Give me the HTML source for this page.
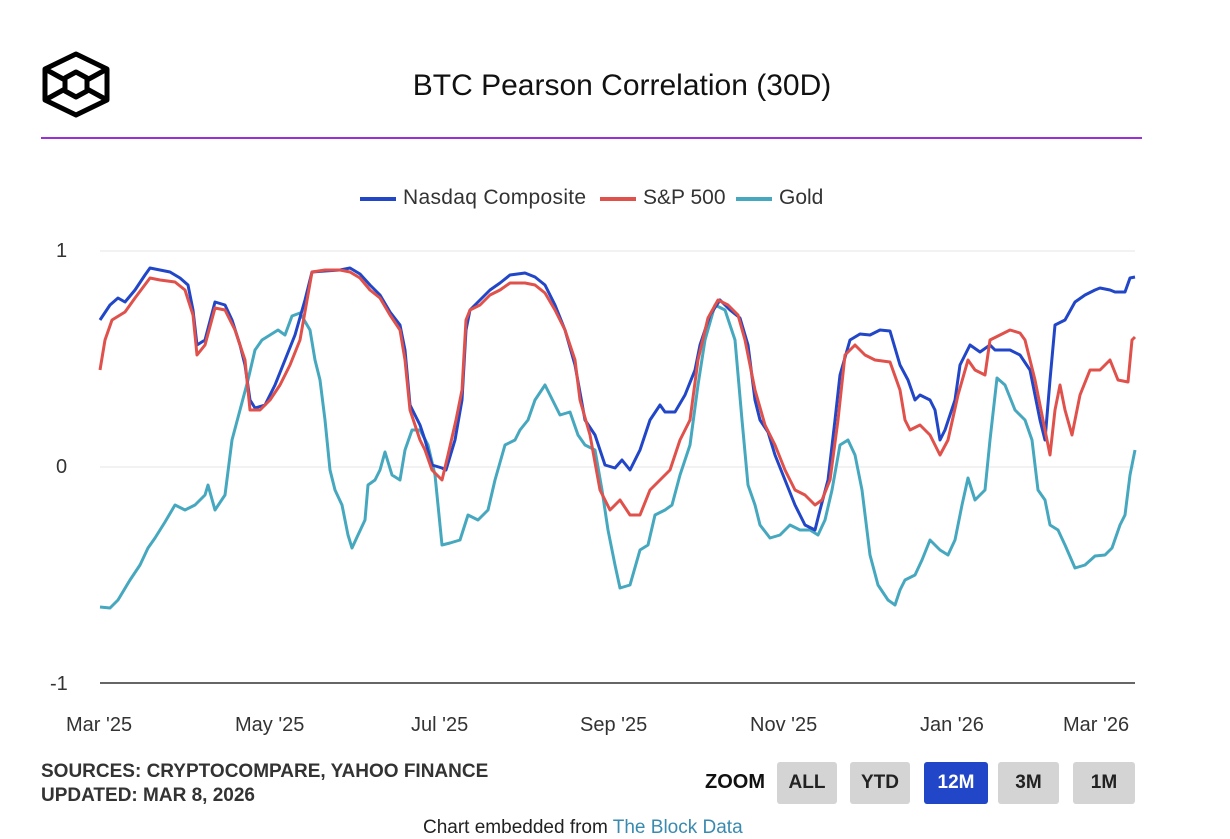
<!DOCTYPE html>
<html><head><style>
body{margin:0;width:1230px;height:828px;background:#fff;overflow:hidden;font-family:"Liberation Sans",sans-serif;position:relative}
.t{position:absolute;white-space:nowrap}
.btn{position:absolute;top:762px;height:42px;background:#d4d4d4;border-radius:3px;font:bold 19px "Liberation Sans",sans-serif;display:flex;align-items:center;justify-content:center;color:#222}
</style></head><body>
<svg width="1230" height="828" style="position:absolute;left:0;top:0">
<g fill="none" stroke="#000" stroke-width="5" stroke-linejoin="round">
<polygon points="76,54 107,69 107,100 76,115 45,100 45,69"/>
<polygon points="76,72 87,78 87,91 76,97 65,91 65,78"/>
<line x1="45" y1="69" x2="65" y2="80"/><line x1="107" y1="69" x2="87" y2="80"/>
<line x1="45" y1="100" x2="65" y2="89"/><line x1="107" y1="100" x2="87" y2="89"/>
</g>
<line x1="41" y1="138" x2="1142" y2="138" stroke="#9b30d9" stroke-width="2"/>
<line x1="100" y1="251" x2="1135" y2="251" stroke="#e6e6e6"/>
<line x1="100" y1="467" x2="1135" y2="467" stroke="#e6e6e6"/>
<line x1="100" y1="683" x2="1135" y2="683" stroke="#333" stroke-width="1.5"/>
<line x1="360" y1="199" x2="396" y2="199" stroke="#2146c7" stroke-width="4"/>
<line x1="600" y1="199" x2="636" y2="199" stroke="#e0514b" stroke-width="4"/>
<line x1="736" y1="199" x2="772" y2="199" stroke="#46a8bf" stroke-width="4"/>
<g fill="none" stroke-width="3" stroke-linejoin="round">
<polyline stroke="#46a8bf" points="100,607 110,608 118,600 130,580 140,565 148,548 155,538 165,522 175,505 185,510 195,505 205,495 208,485 215,510 225,495 232,440 240,410 248,380 255,350 262,340 270,335 278,330 285,335 292,316 300,313 310,330 315,360 320,380 325,420 330,470 335,490 342,505 348,535 352,548 358,535 365,520 368,485 375,480 380,470 385,452 392,475 400,480 405,450 412,430 420,430 428,445 435,475 442,545 450,543 460,540 468,515 478,520 488,510 495,480 505,445 515,440 520,430 528,420 535,400 545,385 550,395 555,405 560,415 570,412 578,435 585,445 595,450 602,490 608,530 615,565 620,588 630,585 640,550 648,545 655,515 665,510 672,505 680,475 690,445 698,385 705,340 715,305 725,310 735,340 742,420 748,485 755,505 760,525 770,538 780,535 790,525 800,530 810,530 818,535 825,520 832,490 840,445 848,440 855,455 862,490 870,555 878,585 888,600 895,605 900,590 905,580 915,575 922,560 930,540 940,550 948,555 955,540 962,505 968,478 975,500 985,490 990,440 997,378 1005,385 1015,410 1025,420 1032,440 1038,490 1045,500 1050,525 1058,530 1065,545 1075,568 1085,565 1095,556 1105,555 1112,548 1120,525 1125,515 1130,475 1135,450"/>
<polyline stroke="#2146c7" points="100,320 110,305 118,298 125,302 135,290 145,275 150,268 160,270 170,272 180,278 188,285 193,310 197,345 205,340 215,302 225,305 232,320 240,345 245,365 250,400 255,408 265,405 275,385 285,360 295,335 305,300 312,272 325,271 340,270 350,268 360,274 370,285 380,295 390,312 400,325 405,350 410,405 420,425 425,440 432,465 442,468 446,470 455,440 462,400 466,330 470,310 480,300 490,290 500,283 510,275 525,273 535,277 545,285 555,305 565,330 575,365 585,420 595,435 605,465 615,468 622,460 630,470 640,450 650,420 660,405 665,412 675,412 685,395 695,370 700,345 710,315 720,300 730,310 740,318 748,345 755,400 760,420 768,432 775,455 785,480 795,505 805,525 815,530 820,510 828,480 835,420 840,375 850,340 860,334 870,335 880,330 890,331 900,365 908,380 915,400 920,395 930,400 935,410 940,440 945,430 955,400 960,365 970,345 980,352 990,345 995,350 1010,350 1020,355 1030,370 1040,420 1045,440 1050,380 1055,325 1065,320 1075,302 1085,295 1095,290 1100,288 1110,290 1115,292 1125,292 1130,278 1135,277"/>
<polyline stroke="#e0514b" points="100,370 105,340 112,320 125,312 135,298 150,278 160,280 175,282 185,290 193,315 197,355 205,345 215,308 225,310 235,330 245,360 250,410 260,410 270,400 280,385 290,365 300,340 312,272 325,270 340,270 350,272 360,278 370,290 380,298 390,315 400,330 405,360 410,410 420,440 425,450 432,470 442,480 448,455 456,420 462,390 466,320 470,310 480,305 490,295 500,290 510,283 525,283 535,285 545,293 555,310 565,330 575,360 580,400 590,435 600,490 610,510 620,500 630,515 640,515 650,490 660,480 670,470 680,440 690,420 698,360 708,318 718,300 728,305 738,315 745,340 755,390 765,425 775,445 785,470 795,490 805,495 815,505 822,500 830,480 838,420 845,355 855,345 865,355 875,360 890,362 900,390 905,420 910,430 920,425 930,435 940,455 948,440 958,395 968,360 975,370 985,375 990,340 1000,335 1010,330 1020,333 1025,340 1035,380 1045,430 1050,455 1055,410 1060,385 1065,410 1072,435 1080,395 1090,370 1100,370 1110,360 1118,380 1128,382 1132,340 1135,337"/>
</g>
</svg>
<div class="t" style="left:0;width:1244px;text-align:center;top:69px;font-size:30px;color:#111">BTC Pearson Correlation (30D)</div>
<div class="t" style="left:403px;top:186px;font-size:21px;color:#333;letter-spacing:.3px">Nasdaq Composite</div>
<div class="t" style="left:643px;top:186px;font-size:21px;color:#333">S&amp;P 500</div>
<div class="t" style="left:779px;top:186px;font-size:21px;color:#333">Gold</div>
<div class="t" style="left:56px;top:240px;font-size:20px;color:#333">1</div>
<div class="t" style="left:56px;top:456px;font-size:20px;color:#333">0</div>
<div class="t" style="left:50px;top:673px;font-size:20px;color:#333">-1</div>
<div class="t" style="left:66px;top:714px;font-size:20px;color:#333">Mar '25</div>
<div class="t" style="left:235px;top:714px;font-size:20px;color:#333">May '25</div>
<div class="t" style="left:411px;top:714px;font-size:20px;color:#333">Jul '25</div>
<div class="t" style="left:580px;top:714px;font-size:20px;color:#333">Sep '25</div>
<div class="t" style="left:750px;top:714px;font-size:20px;color:#333">Nov '25</div>
<div class="t" style="left:920px;top:714px;font-size:20px;color:#333">Jan '26</div>
<div class="t" style="left:1063px;top:714px;font-size:20px;color:#333">Mar '26</div>
<div class="t" style="left:41px;top:760px;font-size:19px;font-weight:bold;color:#333;line-height:24px">SOURCES: CRYPTOCOMPARE, YAHOO FINANCE<br>UPDATED: MAR 8, 2026</div>
<div class="t" style="left:705px;top:771px;font-size:20px;font-weight:bold;color:#111">ZOOM</div>
<div class="btn" style="left:777px;width:60px">ALL</div>
<div class="btn" style="left:850px;width:60px">YTD</div>
<div class="btn" style="left:924px;width:64px;background:#2146c7;color:#fff">12M</div>
<div class="btn" style="left:998px;width:61px">3M</div>
<div class="btn" style="left:1073px;width:62px">1M</div>
<div class="t" style="left:423px;top:817px;font-size:19px;color:#222">Chart embedded from <span style="color:#3a8ab0">The Block Data</span></div>
</body></html>
